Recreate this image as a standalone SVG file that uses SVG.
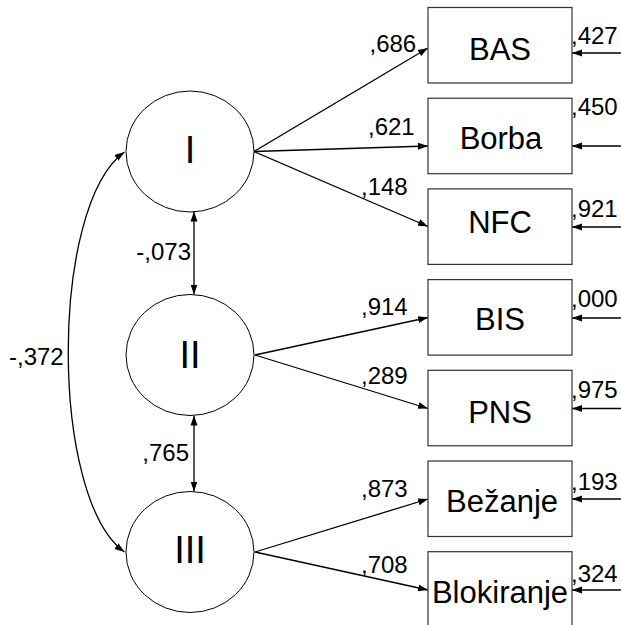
<svg xmlns="http://www.w3.org/2000/svg" width="621" height="625" viewBox="0 0 621 625">
<style>
  .box{fill:#fff;stroke:#333;stroke-width:1.2}
  .lat{fill:#fff;stroke:#000;stroke-width:1}
  .con{fill:none;stroke:#000;stroke-width:1.3}
  .one{marker-end:url(#ah)}
  .two{marker-start:url(#ah);marker-end:url(#ah)}
  .lbl{font-family:"Liberation Sans",Arial,sans-serif;font-size:31px;fill:#000;text-anchor:middle}
  .latl{font-family:"Liberation Sans",Arial,sans-serif;font-size:38px;fill:#000;text-anchor:middle}
  .num{font-family:"Liberation Sans",Arial,sans-serif;font-size:24px;fill:#000}
</style>
<defs>
  <marker id="ah" markerUnits="userSpaceOnUse" markerWidth="10" markerHeight="8" refX="10" refY="4" orient="auto-start-reverse">
    <path d="M0,0.5 L10,4 L0,7.5 z" fill="#000"/>
  </marker>
</defs>
<g id="connectors">
  <path class="con one" d="M254,151.5 L428,48"/>
  <path class="con one" d="M254,151.5 L428,146"/>
  <path class="con one" d="M254,151.5 L428,226.5"/>
  <path class="con one" d="M255,355 L428,317.5"/>
  <path class="con one" d="M255,355 L428,408.5"/>
  <path class="con one" d="M255,552 L428,499"/>
  <path class="con one" d="M255,552 L428,590"/>
  <path class="con one" d="M621,53 L572,53"/>
  <path class="con one" d="M621,146 L572,146"/>
  <path class="con one" d="M621,227 L572,227"/>
  <path class="con one" d="M621,318 L572,318"/>
  <path class="con one" d="M621,408.5 L572,408.5"/>
  <path class="con one" d="M621,499 L572,499"/>
  <path class="con one" d="M621,590 L572,590"/>
  <path class="con two" d="M194,211.5 L194,294.5"/>
  <path class="con two" d="M194,415.5 L194,491.5"/>
  <path class="con two" d="M124.5,152 C49.5,206 49.5,498 124.5,552"/>
  <text class="num" x="369.5" y="51.5">,686</text>
  <text class="num" x="368" y="135">,621</text>
  <text class="num" x="361" y="195">,148</text>
  <text class="num" x="361" y="315">,914</text>
  <text class="num" x="361" y="384">,289</text>
  <text class="num" x="361" y="496.5">,873</text>
  <text class="num" x="361" y="573">,708</text>
  <text class="num" x="571" y="44">,427</text>
  <text class="num" x="571" y="115">,450</text>
  <text class="num" x="571" y="217">,921</text>
  <text class="num" x="571" y="307">,000</text>
  <text class="num" x="571" y="398">,975</text>
  <text class="num" x="571" y="490">,193</text>
  <text class="num" x="571" y="582">,324</text>
  <text class="num" x="191" y="260" text-anchor="end">-,073</text>
  <text class="num" x="189" y="461" text-anchor="end">,765</text>
  <text class="num" x="9" y="365">-,372</text>
</g>
<g id="I"><ellipse class="lat" cx="190" cy="151.5" rx="64" ry="60.5"/><text class="latl" x="190" y="163">I</text></g>
<g id="II"><ellipse class="lat" cx="190" cy="355" rx="64" ry="60.5"/><text class="latl" x="190" y="367.5">II</text></g>
<g id="III"><ellipse class="lat" cx="190" cy="552" rx="64" ry="60.5"/><text class="latl" x="190" y="563">III</text></g>
<g id="BAS"><rect class="box" x="428" y="7.5" width="144" height="75.5"/><text class="lbl" x="500" y="60">BAS</text></g>
<g id="Borba"><rect class="box" x="428" y="98.2" width="144" height="75.5"/><text class="lbl" x="501" y="149">Borba</text></g>
<g id="NFC"><rect class="box" x="428" y="188.9" width="144" height="75.5"/><text class="lbl" x="500" y="232.7">NFC</text></g>
<g id="BIS"><rect class="box" x="428" y="279.6" width="144" height="75.5"/><text class="lbl" x="500" y="330">BIS</text></g>
<g id="PNS"><rect class="box" x="428" y="370.3" width="144" height="75.5"/><text class="lbl" x="500" y="422.7">PNS</text></g>
<g id="Bezanje"><rect class="box" x="428" y="461" width="144" height="75.5"/><text class="lbl" x="502" y="511.7">Bežanje</text></g>
<g id="Blokiranje"><rect class="box" x="428" y="551.7" width="144" height="75.5"/><text class="lbl" x="500" y="602.7">Blokiranje</text></g>
</svg>
